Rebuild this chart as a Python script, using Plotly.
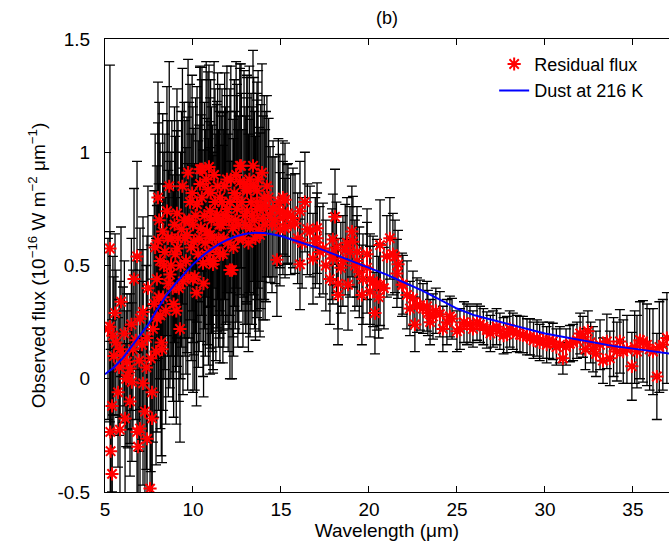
import plotly.graph_objects as go

# Residual flux data (wavelength in micron, flux in 1e-16 W m^-2 um^-1, 1-sigma error)
wavelength = [
    5.17, 5.28, 5.28, 5.30, 5.32, 5.40, 5.40, 5.45, 5.50, 5.57, 5.62, 5.74, 5.80, 5.85, 5.85, 5.91,
    6.02, 6.10, 6.14, 6.20, 6.25, 6.30, 6.42, 6.42, 6.50, 6.53, 6.59, 6.65, 6.75, 6.82, 6.82, 6.88,
    6.95, 6.99, 6.99, 7.10, 7.16, 7.16, 7.27, 7.35, 7.39, 7.39, 7.44, 7.56, 7.60, 7.67, 7.67, 7.73, 7.80,
    7.95, 7.95, 8.01, 8.01, 8.05, 8.13, 8.20, 8.24, 8.30, 8.40, 8.52, 8.60, 8.69, 8.80, 8.90, 9.00,
    9.09, 9.09, 9.20, 9.26, 9.35, 9.43, 9.50, 9.60, 9.66, 9.72, 9.83, 9.90, 10.00, 10.00, 10.05, 10.10,
    10.23, 10.30, 10.40, 10.40, 10.45, 10.51, 10.57, 10.65, 10.70, 10.80, 10.85, 10.91, 10.97, 10.97, 10.97,
    11.05, 11.14, 11.14, 11.25, 11.36, 11.36, 11.45, 11.53, 11.53, 11.60, 11.70, 11.70, 11.80, 11.93, 11.93,
    12.00, 12.10, 12.10, 12.22, 12.27, 12.35, 12.50, 12.50, 12.60, 12.67, 12.67, 12.73, 12.84, 12.95,
    13.07, 13.07, 13.07, 13.15, 13.24, 13.30, 13.41, 13.50, 13.64, 13.64, 13.64, 13.75, 13.81, 13.92,
    13.98, 14.05, 14.20,
    14.38, 14.49, 14.66, 14.77, 14.85, 14.94, 14.94, 15.11, 15.11, 15.23, 15.23, 15.34, 15.40, 15.55,
    15.68, 15.80, 15.95, 16.08, 16.08, 16.20, 16.36, 16.50, 16.65, 16.82, 16.95, 17.05, 17.05, 17.20,
    17.39, 17.55, 17.78, 17.90, 17.95, 17.95, 18.07, 18.15, 18.24, 18.24, 18.40, 18.52, 18.65, 18.75,
    18.81, 18.92, 19.03, 19.09, 19.20, 19.32, 19.32, 19.45, 19.60, 19.66, 19.89, 19.89, 20.06, 20.06,
    20.23, 20.34, 20.45, 20.55, 20.63, 20.63, 20.85, 21.02, 21.19, 21.36, 21.48, 21.59, 21.65, 21.88, 21.93,
    22.16, 22.33, 22.50, 22.61, 22.73, 22.90, 23.07, 23.30, 23.35, 23.47, 23.64, 23.80, 24.03, 24.20,
    24.43, 24.60, 24.72, 25.00, 25.17, 25.40, 25.57, 25.74, 25.91, 26.14, 26.31, 26.50, 26.70, 26.90,
    27.05, 27.25, 27.44, 27.65, 27.84, 28.00, 28.18, 28.40, 28.58, 28.75, 28.98, 29.15, 29.35, 29.55,
    29.70, 29.89, 30.10, 30.25, 30.45, 30.65, 30.85, 31.02, 31.20, 31.42, 31.60, 31.82, 32.00, 32.16,
    32.30, 32.44, 32.60, 32.73, 32.90, 33.13, 33.30, 33.52, 33.69, 33.90, 34.09, 34.26, 34.45, 34.66,
    34.94, 35.10, 35.23, 35.40, 35.57, 35.80, 35.95, 36.14, 36.36, 36.50, 36.70, 36.93,
    # additional samples in the dense 8-14 micron band
    7.85, 7.90, 8.08, 8.15, 8.28, 8.35, 8.45, 8.57, 8.65, 8.75, 8.85, 8.95, 9.05, 9.15, 9.30, 9.40,
    9.55, 9.70, 9.78, 9.95, 10.15, 10.20, 10.35, 10.50, 10.60, 10.75, 10.88, 11.00, 11.10, 11.20,
    11.30, 11.40, 11.50, 11.65, 11.75, 11.85, 12.05, 12.15, 12.30, 12.40, 12.45, 12.55, 12.75, 12.90,
    13.00, 13.20, 13.35, 13.45, 13.55, 13.70, 13.85, 14.10, 14.15, 14.30, 14.55,
]
flux = [
    0.22, 0.575, 0.23, -0.235, -0.32, -0.12, -0.42, 0.19, 0.10, 0.29, 0.16, -0.06, 0.05, 0.13, -0.225, 0.34,
    0.105, 0.20, -0.175, 0.0, 0.075, 0.015, 0.045, -0.10, 0.24, -0.015, 0.13, 0.44, 0.17, 0.54, -0.235, -0.30,
    0.08, 0.265, -0.22, 0.15, 0.295, -0.02, -0.145, 0.05, 0.18, -0.265, 0.40, -0.485, 0.09, -0.06, -0.175, 0.22, 0.33,
    0.265, 0.44, 0.80, 0.61, 0.36, 0.52, 0.16, 0.13, 0.36, 0.56, 0.74, 0.42, 0.46, 0.62, 0.33, 0.55,
    0.73, 0.575, 0.40, 0.22, 0.66, 0.43, 0.70, 0.52, 0.635, 0.91, 0.78, 0.58, 0.68, 0.44, 0.605, 0.45,
    0.77, 0.55, 0.925, 0.86, 0.665, 0.925, 0.51, 0.72, 0.60, 0.65, 0.835, 0.935, 0.74, 0.635, 0.52,
    0.70, 0.505, 0.52, 0.78, 0.71, 0.725, 0.62, 0.80, 0.55, 0.68, 0.55, 0.695, 0.85, 0.88, 0.75,
    0.60, 0.78, 0.48, 0.48, 0.665, 0.82, 0.80, 0.75, 0.68, 0.94, 0.87, 0.94, 0.62, 0.72,
    0.83, 0.84, 0.74, 0.60, 0.665, 0.78, 0.94, 0.70, 0.83, 0.78, 0.75, 0.66, 0.635, 0.91,
    0.71, 0.80, 0.85,
    0.725, 0.68, 0.70, 0.525, 0.78, 0.74, 0.66, 0.80, 0.71, 0.79, 0.665, 0.725, 0.73, 0.68,
    0.71, 0.685, 0.62, 0.74, 0.505, 0.60, 0.78, 0.66, 0.65, 0.53, 0.60, 0.665, 0.62, 0.56,
    0.575, 0.50, 0.44, 0.55, 0.615, 0.53, 0.715, 0.58, 0.37, 0.42, 0.49, 0.52, 0.57, 0.60,
    0.415, 0.56, 0.65, 0.605, 0.50, 0.56, 0.52, 0.47, 0.37, 0.44, 0.55, 0.49, 0.44, 0.385,
    0.43, 0.29, 0.415, 0.36, 0.59, 0.415, 0.40, 0.54, 0.62, 0.55, 0.54, 0.465, 0.505, 0.415, 0.415,
    0.37, 0.31, 0.355, 0.24, 0.325, 0.325, 0.31, 0.32, 0.29, 0.25, 0.275, 0.30, 0.285, 0.22,
    0.25, 0.275, 0.265, 0.21, 0.22, 0.25, 0.24, 0.24, 0.22, 0.25, 0.24, 0.23, 0.215, 0.20,
    0.22, 0.23, 0.21, 0.19, 0.195, 0.22, 0.21, 0.20, 0.195, 0.195, 0.185, 0.185, 0.17, 0.18,
    0.16, 0.17, 0.15, 0.17, 0.165, 0.14, 0.15, 0.09, 0.14, 0.155, 0.16, 0.17, 0.20, 0.185,
    0.13, 0.21, 0.16, 0.13, 0.11, 0.15, 0.08, 0.165, 0.09, 0.14, 0.12, 0.165, 0.12, 0.13,
    0.055, 0.14, 0.12, 0.17, 0.165, 0.15, 0.13, 0.12, 0.01, 0.14, 0.15, 0.18,
    0.58, 0.12, 0.70, 0.28, 0.65, 0.50, 0.30, 0.62, 0.85, 0.50, 0.40, 0.68, 0.30, 0.62, 0.50, 0.85,
    0.62, 0.45, 0.70, 0.82, 0.72, 0.38, 0.62, 0.80, 0.42, 0.88, 0.56, 0.82, 0.62, 0.90,
    0.58, 0.85, 0.68, 0.78, 0.62, 0.72, 0.70, 0.88, 0.58, 0.70, 0.90, 0.62, 0.78, 0.86,
    0.68, 0.88, 0.72, 0.85, 0.62, 0.88, 0.76, 0.68, 0.76, 0.80, 0.75,
]
flux_err = [
    0.40, 0.81, 0.42, 0.40, 0.45, 0.38, 0.45, 0.35, 0.35, 0.35, 0.32, 0.33, 0.30, 0.30, 0.35, 0.33,
    0.30, 0.32, 0.33, 0.30, 0.30, 0.32, 0.33, 0.33, 0.38, 0.35, 0.35, 0.40, 0.35, 0.42, 0.35, 0.38,
    0.40, 0.40, 0.40, 0.42, 0.42, 0.45, 0.45, 0.45, 0.45, 0.45, 0.45, 0.55, 0.50, 0.50, 0.50, 0.50, 0.50,
    0.50, 0.50, 0.51, 0.52, 0.50, 0.52, 0.50, 0.50, 0.50, 0.52, 0.55, 0.50, 0.50, 0.52, 0.50, 0.52,
    0.55, 0.52, 0.50, 0.50, 0.52, 0.50, 0.52, 0.50, 0.52, 0.50, 0.52, 0.50, 0.52, 0.50, 0.50, 0.50,
    0.52, 0.50, 0.45, 0.52, 0.50, 0.45, 0.50, 0.50, 0.50, 0.50, 0.52, 0.45, 0.50, 0.50, 0.50,
    0.50, 0.48, 0.48, 0.50, 0.50, 0.50, 0.48, 0.50, 0.48, 0.48, 0.48, 0.48, 0.50, 0.50, 0.50,
    0.48, 0.50, 0.48, 0.48, 0.48, 0.50, 0.50, 0.50, 0.48, 0.45, 0.50, 0.45, 0.48, 0.48,
    0.50, 0.50, 0.50, 0.48, 0.48, 0.48, 0.51, 0.48, 0.48, 0.48, 0.48, 0.45, 0.45, 0.48,
    0.45, 0.45, 0.40,
    0.30, 0.30, 0.28, 0.25, 0.28, 0.25, 0.25, 0.25, 0.25, 0.25, 0.22, 0.22, 0.22, 0.22,
    0.22, 0.22, 0.20, 0.22, 0.20, 0.20, 0.22, 0.20, 0.20, 0.20, 0.20, 0.20, 0.20, 0.20,
    0.20, 0.20, 0.20, 0.20, 0.20, 0.20, 0.21, 0.20, 0.22, 0.20, 0.20, 0.20, 0.20, 0.20,
    0.20, 0.20, 0.20, 0.20, 0.20, 0.20, 0.20, 0.20, 0.22, 0.20, 0.20, 0.20, 0.20, 0.20,
    0.20, 0.18, 0.20, 0.18, 0.20, 0.18, 0.18, 0.18, 0.18, 0.18, 0.16, 0.15, 0.15, 0.14, 0.13,
    0.15, 0.12, 0.12, 0.12, 0.12, 0.11, 0.11, 0.11, 0.10, 0.10, 0.10, 0.10, 0.10, 0.10,
    0.10, 0.09, 0.09, 0.09, 0.09, 0.09, 0.09, 0.08, 0.08, 0.08, 0.08, 0.08, 0.08, 0.08,
    0.08, 0.08, 0.08, 0.08, 0.08, 0.08, 0.08, 0.08, 0.08, 0.08, 0.08, 0.08, 0.08, 0.08,
    0.08, 0.08, 0.08, 0.08, 0.08, 0.08, 0.08, 0.07, 0.08, 0.08, 0.08, 0.08, 0.09, 0.09,
    0.09, 0.09, 0.09, 0.10, 0.10, 0.11, 0.10, 0.12, 0.12, 0.13, 0.13, 0.14, 0.14, 0.15,
    0.15, 0.16, 0.16, 0.17, 0.18, 0.18, 0.18, 0.19, 0.19, 0.20, 0.20, 0.20,
    0.50, 0.50, 0.52, 0.50, 0.52, 0.50, 0.50, 0.52, 0.55, 0.50, 0.50, 0.52, 0.50, 0.52, 0.50, 0.52,
    0.52, 0.50, 0.52, 0.52, 0.52, 0.50, 0.50, 0.52, 0.50, 0.52, 0.50, 0.50, 0.50, 0.50,
    0.50, 0.50, 0.50, 0.50, 0.48, 0.48, 0.48, 0.50, 0.48, 0.48, 0.50, 0.48, 0.48, 0.50,
    0.48, 0.50, 0.48, 0.48, 0.45, 0.48, 0.45, 0.42, 0.42, 0.35, 0.30,
]

# Dust model curve (216 K)
model_wavelength = [5.0, 5.5, 6.0, 6.5, 7.0, 7.5, 8.0, 8.5, 9.0, 9.5, 10.0, 10.5, 11.0, 11.5, 12.0,
                    12.5, 13.0, 13.5, 14.0, 14.5, 15.0, 16.0, 17.0, 18.0, 19.0, 20.0, 21.0, 22.0,
                    23.0, 24.0, 25.0, 26.0, 27.0, 28.0, 29.0, 30.0, 31.0, 32.0, 33.0, 34.0, 35.0,
                    36.0, 37.0, 37.1]
model_flux = [0.02, 0.05, 0.09, 0.14, 0.19, 0.245, 0.31, 0.37, 0.42, 0.465, 0.505, 0.54, 0.57, 0.595,
              0.615, 0.63, 0.64, 0.645, 0.644, 0.638, 0.63, 0.605, 0.58, 0.55, 0.52, 0.49, 0.46,
              0.425, 0.39, 0.35, 0.31, 0.28, 0.26, 0.24, 0.22, 0.20, 0.185, 0.17, 0.155, 0.143,
              0.133, 0.122, 0.112, 0.111]

x_ticks = [5, 10, 15, 20, 25, 30, 35]
y_ticks = [-0.5, 0, 0.5, 1, 1.5]
y_ticktext = ["-0.5", "0", "0.5", "1", "1.5"]

FONT = "Liberation Sans, Arial, Helvetica, sans-serif"

fig = go.Figure()

# error bars (drawn first, below markers)
fig.add_trace(go.Scatter(
    x=wavelength, y=flux, mode="markers",
    marker=dict(size=1, color="rgba(0,0,0,0)"),
    error_y=dict(type="data", array=flux_err, visible=True, color="black", thickness=1.3, width=5),
    showlegend=False, hoverinfo="skip",
))
# residual flux markers
fig.add_trace(go.Scatter(
    x=wavelength, y=flux, mode="markers", name="Residual flux",
    marker=dict(symbol="asterisk-open", size=11, color="red", line=dict(color="red", width=2)),
))
# dust model
fig.add_trace(go.Scatter(
    x=model_wavelength, y=model_flux, mode="lines", name="Dust at 216 K",
    line=dict(color="#0000ff", width=2),
))

fig.update_layout(
    width=669, height=545,
    margin=dict(l=105, r=0, t=39, b=53),
    paper_bgcolor="white", plot_bgcolor="white",
    font=dict(family=FONT, size=19, color="black"),
    title=dict(text="(b)", x=0.5, xref="paper", xanchor="center",
               y=1 - 18 / 545, yref="container", yanchor="middle",
               font=dict(family=FONT, size=18, color="black")),
    showlegend=True,
    legend=dict(x=0.69, xanchor="left", y=0.985, yanchor="top",
                bgcolor="rgba(255,255,255,0)", borderwidth=0,
                font=dict(family=FONT, size=18, color="black"),
                tracegroupgap=0),
)
fig.update_xaxes(
    range=[5, 37.05], tickvals=x_ticks, ticks="inside", ticklen=6, tickcolor="black",
    showline=True, linecolor="black", linewidth=1, mirror="ticks",
    showgrid=False, zeroline=False,
    title=dict(text="Wavelength (μm)", standoff=0, font=dict(family=FONT, size=19)),
    tickfont=dict(family=FONT, size=19),
)
fig.update_yaxes(
    range=[-0.5, 1.5], tickvals=y_ticks, ticktext=y_ticktext, ticks="inside", ticklen=6,
    tickcolor="black", showline=True, linecolor="black", linewidth=1, mirror=False,
    showgrid=False, zeroline=False, ticklabelstandoff=10,
    title=dict(text="Observed flux (10<sup>−16</sup> W m<sup>−2</sup> μm<sup>−1</sup>)",
               standoff=6, font=dict(family=FONT, size=19)),
    tickfont=dict(family=FONT, size=19),
)

fig.write_html("out.html", config={"displayModeBar": False},
               post_script="document.body.style.margin='0px';")
